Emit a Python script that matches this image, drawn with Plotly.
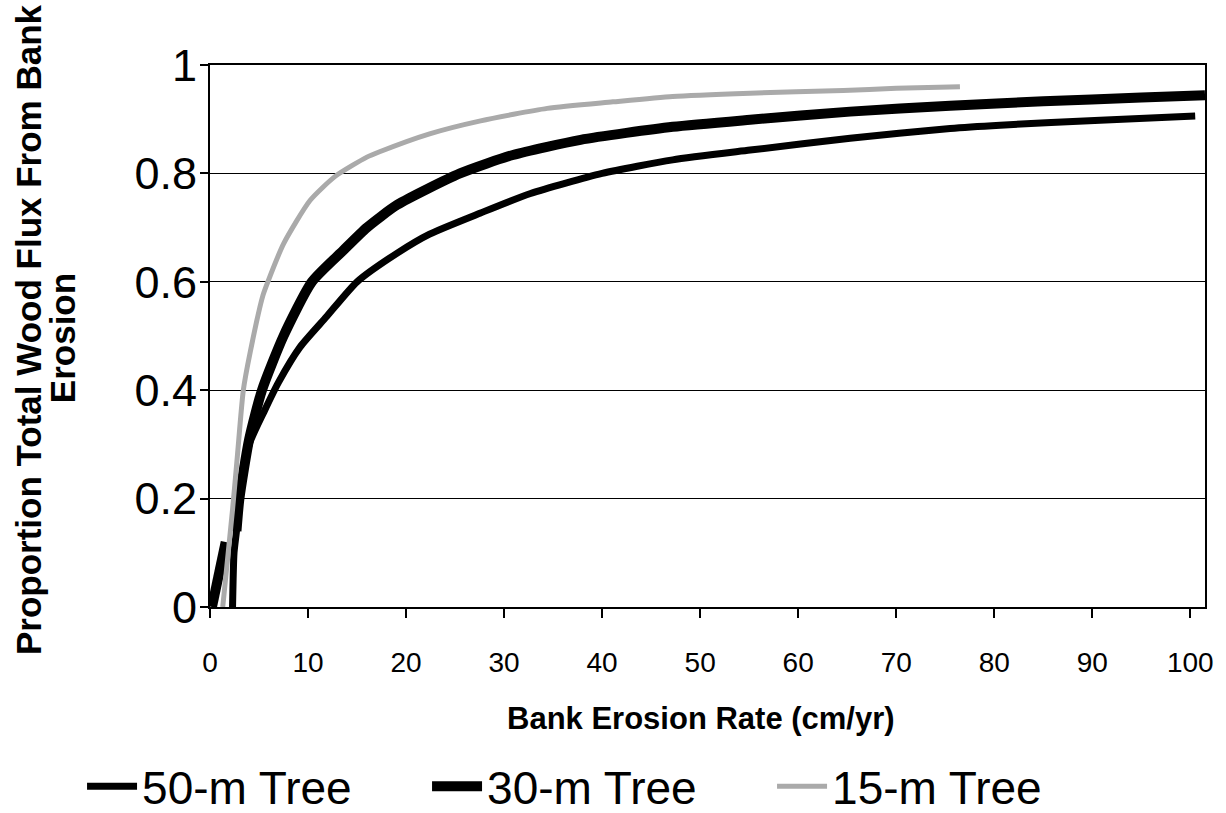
import plotly.graph_objects as go

# ---- data ----
x_50m = [2.3, 2.45, 2.7, 3.0, 4.0, 5.5, 7.0, 9.2, 11.9, 15.0, 19.1, 22.4, 27.6, 32.7, 40.0,
         47.2, 55.1, 65.3, 75.5, 80.6, 90.8, 100.5]
y_50m = [0.0, 0.10, 0.14, 0.20, 0.30, 0.36, 0.415, 0.48, 0.536, 0.60, 0.653, 0.688, 0.727, 0.763, 0.80,
         0.825, 0.843, 0.865, 0.883, 0.889, 0.898, 0.906]

x_30m = [0.2, 1.6, None, 2.7, 3.0, 4.0, 5.3, 7.5, 10.4, 13.6, 16.0, 19.1, 25.5, 30.9, 37.8,
         47.2, 55.1, 65.3, 75.5, 85.0, 95.0, 101.5]
y_30m = [0.0, 0.12, None, 0.14, 0.20, 0.31, 0.40, 0.50, 0.60, 0.658, 0.70, 0.742, 0.80, 0.834, 0.862,
         0.886, 0.899, 0.914, 0.925, 0.933, 0.94, 0.944]

x_15m = [1.3, 2.3, 2.8, 3.4, 4.1, 5.4, 5.9, 7.5, 10.2, 12.8, 16.0, 17.3, 22.4, 27.6, 34.4,
         41.1, 47.2, 55.1, 64.6, 70.0, 76.5]
y_15m = [0.0, 0.18, 0.28, 0.40, 0.47, 0.575, 0.60, 0.67, 0.75, 0.795, 0.83, 0.84, 0.873, 0.897, 0.92,
         0.932, 0.942, 0.948, 0.953, 0.957, 0.96]

series_names = ["50-m Tree", "30-m Tree", "15-m Tree"]
x_ticks = [0, 10, 20, 30, 40, 50, 60, 70, 80, 90, 100]
y_ticks = [0, 0.2, 0.4, 0.6, 0.8, 1]

x_title = "Bank Erosion Rate (cm/yr)"
y_title_lines = ["Proportion Total Wood Flux From Bank", "Erosion"]

FONT = "Liberation Sans, Arial, Helvetica, sans-serif"

fig = go.Figure()
fig.add_trace(go.Scatter(x=x_50m, y=y_50m, name=series_names[0], mode="lines",
                         line=dict(color="black", width=7, shape="spline", smoothing=0.6),
                         connectgaps=False))
fig.add_trace(go.Scatter(x=x_30m, y=y_30m, name=series_names[1], mode="lines",
                         line=dict(color="black", width=10, shape="spline", smoothing=0.6),
                         connectgaps=False))
fig.add_trace(go.Scatter(x=x_15m, y=y_15m, name=series_names[2], mode="lines",
                         line=dict(color="#aaaaaa", width=5, shape="spline", smoothing=0.6),
                         connectgaps=False))

fig.update_layout(
    width=1226, height=813,
    margin=dict(l=210, r=21, t=65, b=206, autoexpand=False),
    paper_bgcolor="white", plot_bgcolor="white",
    font=dict(family=FONT, color="black"),
    showlegend=True,
    legend=dict(orientation="h", xref="paper", x=-0.1286, xanchor="left",
                yref="paper", y=-0.331, yanchor="middle",
                font=dict(size=46, family=FONT, color="black"),
                itemwidth=50, entrywidth=280, entrywidthmode="pixels",
                bgcolor="rgba(0,0,0,0)", borderwidth=0, traceorder="normal"),
)

fig.update_xaxes(
    range=[0, 101.5], tickmode="array", tickvals=x_ticks,
    ticks="outside", ticklen=9, tickwidth=1.5, tickcolor="black",
    showline=True, linewidth=2, linecolor="black", mirror=True,
    showgrid=False, zeroline=False, ticklabelstandoff=20,
    tickfont=dict(size=28, family=FONT, color="black"),
)
fig.update_yaxes(
    range=[0, 1], tickmode="array", tickvals=y_ticks,
    ticks="outside", ticklen=8, tickwidth=1.5, tickcolor="black",
    showline=True, linewidth=2, linecolor="black", mirror=True,
    showgrid=True, gridcolor="black", gridwidth=1.2, zeroline=False,
    ticklabelstandoff=-6,
    tickfont=dict(size=45, family=FONT, color="black"),
)

# x-axis title
fig.add_annotation(text=x_title, xref="paper", yref="paper", x=0.4935, y=0,
                   yshift=-111, xanchor="center", yanchor="middle", showarrow=False,
                   font=dict(size=31, family=FONT, color="black", weight="bold"))

# two-line rotated y-axis title
fig.add_annotation(text=y_title_lines[0], xref="paper", yref="paper", x=0, y=0.511,
                   xshift=-182, xanchor="center", yanchor="middle", textangle=-90,
                   showarrow=False,
                   font=dict(size=35, family=FONT, color="black", weight="bold"))
fig.add_annotation(text=y_title_lines[1], xref="paper", yref="paper", x=0, y=0.496,
                   xshift=-148, xanchor="center", yanchor="middle", textangle=-90,
                   showarrow=False,
                   font=dict(size=35, family=FONT, color="black", weight="bold"))

fig.write_html("out.html")
